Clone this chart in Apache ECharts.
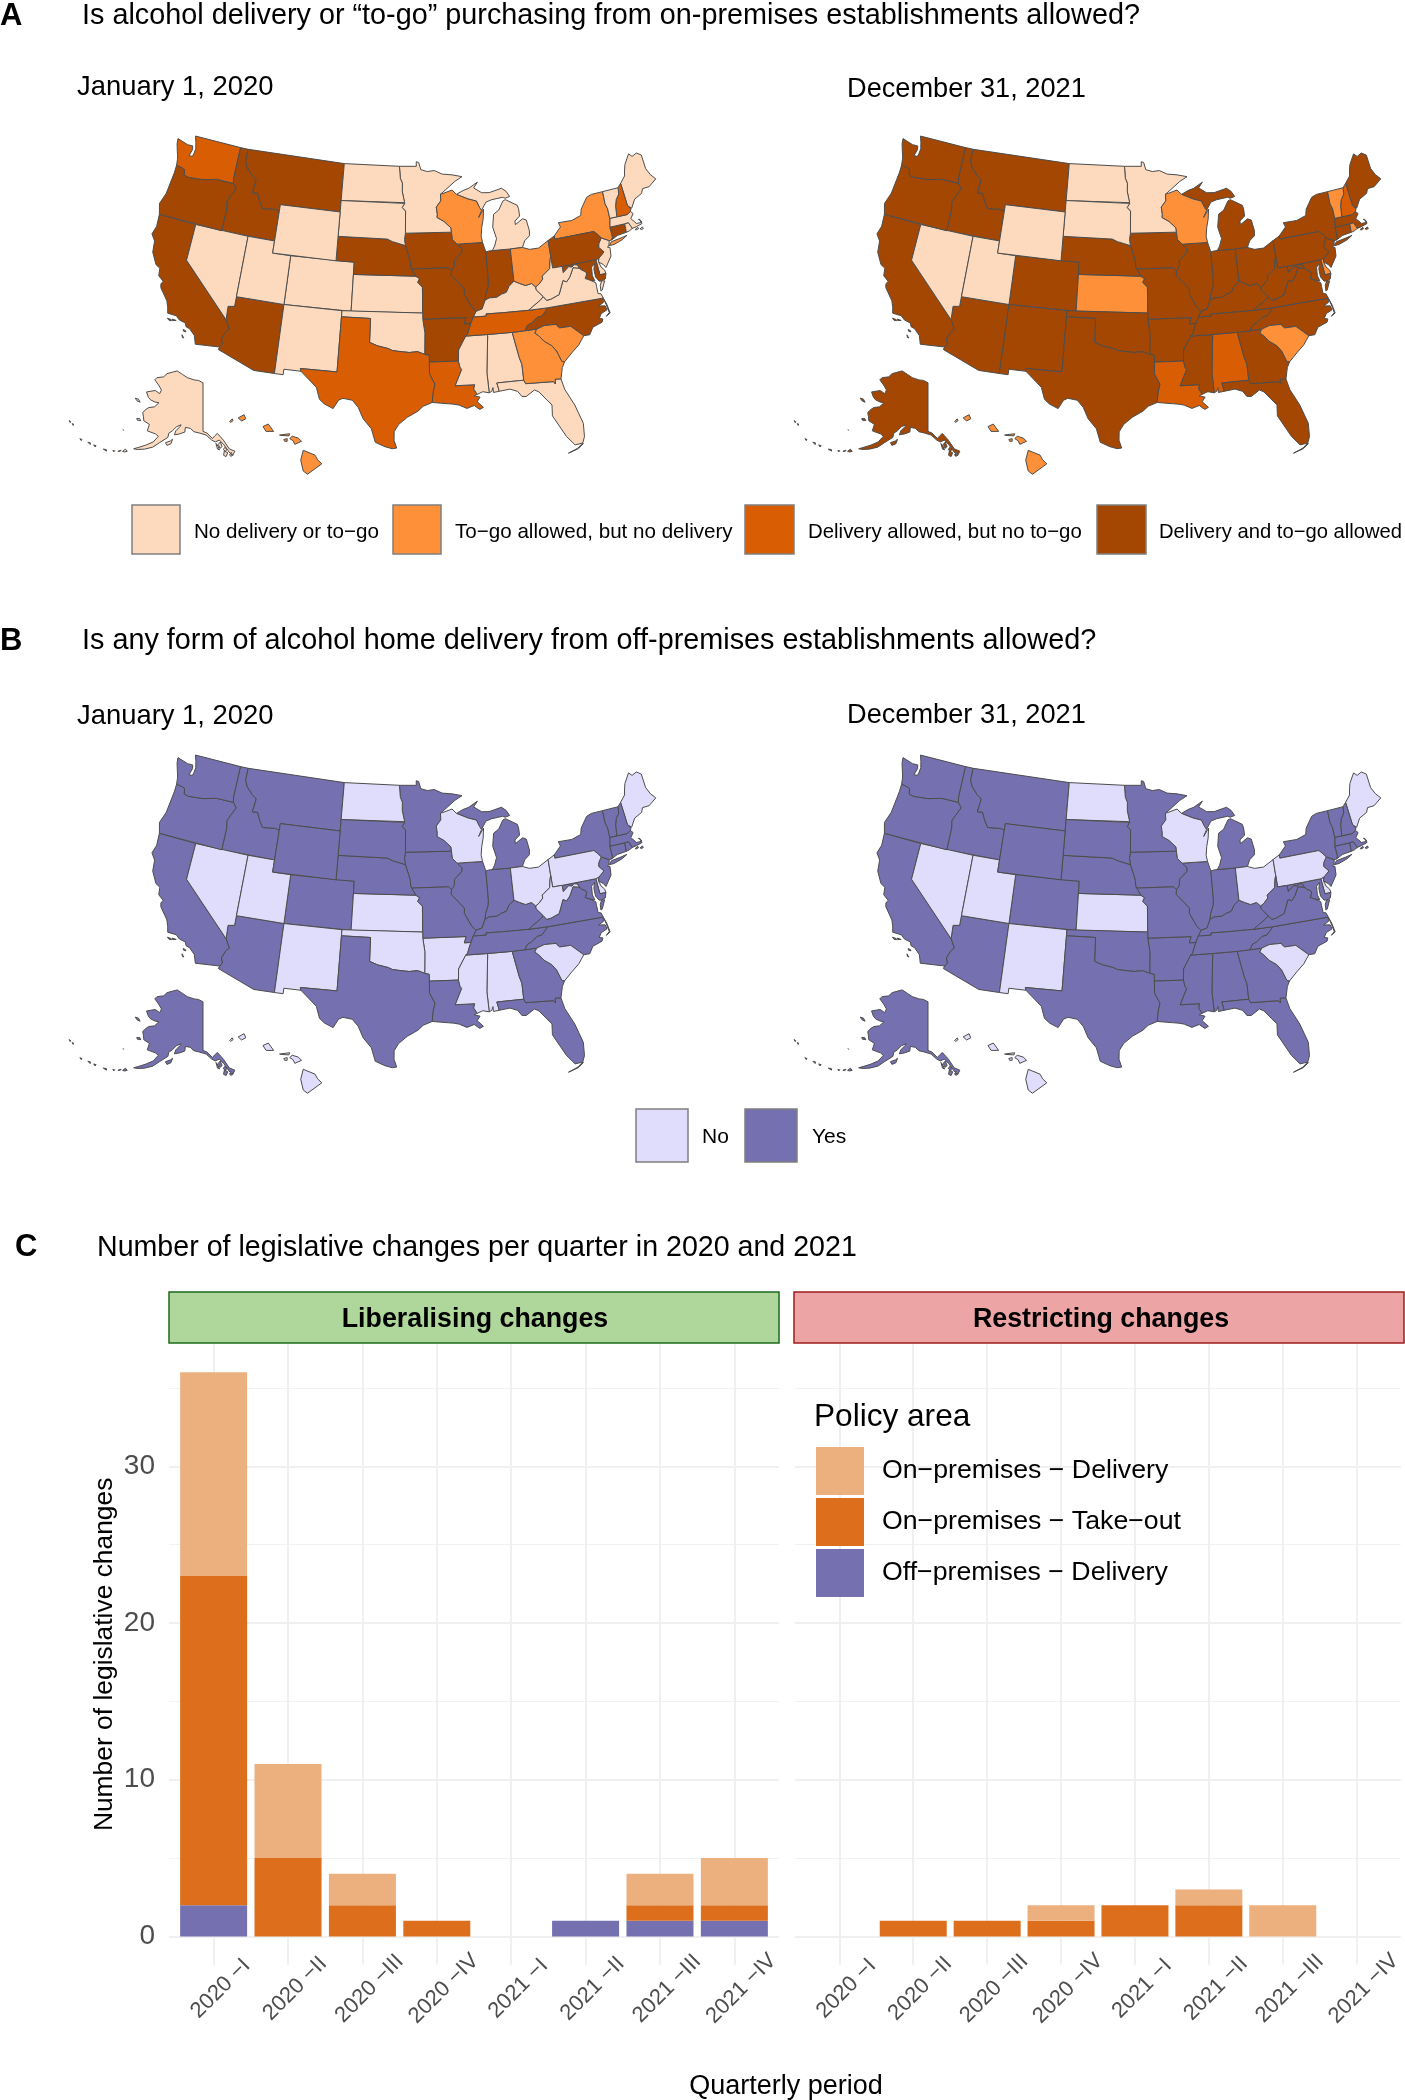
<!DOCTYPE html>
<html>
<head>
<meta charset="utf-8">
<title>Alcohol delivery and to-go policy</title>
<script src="https://cdn.jsdelivr.net/npm/echarts@6/dist/echarts.min.js"></script>
<style>
  html, body { margin: 0; padding: 0; background: #fff; }
  #main { width: 1405px; height: 2100px; }
</style>
</head>
<body>
<div id="main"></div>
<script>
// state order used by every policy list below
var stateIds = ['AL','AK','AZ','AR','CA','CO','CT','DE','FL','GA','HI','ID','IL','IN','IA','KS','KY','LA','ME','MD','MA','MI','MN','MS','MO','MT','NE','NV','NH','NJ','NM','NY','NC','ND','OH','OK','OR','PA','RI','SC','SD','TN','TX','UT','VT','VA','WA','WV','WI','WY'];

// panel A: 0 none, 1 to-go, 2 delivery, 3 both
var onPremises2020 = [0,0,3,3,3,0,3,0,0,1,1,3,3,3,3,0,0,2,0,3,0,0,0,0,3,3,3,0,2,0,0,1,3,0,1,0,3,3,0,1,0,2,2,0,0,0,2,0,1,0];
var onPremises2021 = [2,3,3,3,3,3,3,1,3,3,1,3,3,3,3,1,3,2,3,3,3,3,0,3,3,3,3,0,2,3,3,3,3,0,3,3,3,3,1,1,0,3,3,0,1,3,3,3,1,0];
// panel B: 0 no, 1 yes
var offPremises2020 = [0,1,1,0,1,1,1,0,1,1,0,1,1,1,1,0,1,1,0,1,1,1,1,0,1,1,1,0,1,1,0,1,1,0,0,0,1,0,1,0,1,1,1,0,1,1,1,0,0,1];
var offPremises2021 = [1,1,1,1,1,1,1,0,1,1,0,1,1,1,1,0,1,1,0,1,1,1,1,1,1,1,1,0,1,1,0,1,1,0,0,1,1,0,1,0,1,1,1,0,1,1,1,1,0,1];

var onLabels = ['No delivery or to\u2212go','To\u2212go allowed, but no delivery','Delivery allowed, but no to\u2212go','Delivery and to\u2212go allowed'];
var onColors = ['#FDDABD','#FD9039','#D95D02','#A34702'];
var offLabels = ['No','Yes'];
var offColors = ['#E0DDFC','#7570B0'];

// panel C
var quarters = ['2020 \u2212I','2020 \u2212II','2020 \u2212III','2020 \u2212IV','2021 \u2212I','2021 \u2212II','2021 \u2212III','2021 \u2212IV'];
var libOffDelivery = [2,0,0,0,0,1,1,1];
var libOnTakeout = [21,5,2,1,0,0,1,1];
var libOnDelivery = [13,6,2,0,0,0,2,3];
var resOffDelivery = [0,0,0,0,0,0,0,0];
var resOnTakeout = [0,1,1,1,2,2,0,0];
var resOnDelivery = [0,0,0,1,0,1,2,0];
var areaNames = ['On\u2212premises \u2212 Delivery','On\u2212premises \u2212 Take\u2212out','Off\u2212premises \u2212 Delivery'];
var areaColors = ['#ECB07F','#DC6E1C','#7570B0'];

// outlines, "west lat" pairs, one string per ring
var shapes = {
WA:['124.73 48.38,123.4 48.13,122.75 48.15,122.65 47.85,122.85 47.3,122.45 47.3,122.35 47.6,122.3 48,122.5 48.5,122.76 49,117.03 49,117.04 46.42,116.92 45.99,118.98 46,119.3 45.93,120.5 45.7,121.2 45.65,122.2 45.57,122.75 45.65,122.9 46.1,123.2 46.17,123.95 46.25,124.05 46.7,124.15 47,124.35 47.35,124.65 47.95'],
OR:['123.95 46.25,123.2 46.17,122.9 46.1,122.75 45.65,122.2 45.57,121.2 45.65,120.5 45.7,119.3 45.93,118.98 46,116.92 45.99,116.47 45.6,116.85 45,117.2 44.4,117.03 43.83,117.03 42,124.2 42,124.55 42.85,124.15 43.8,124.05 44.7,123.95 45.6'],
CA:['124.2 42,120 42,120 39,114.63 35,114.14 34.3,114.45 34,114.72 33.4,114.53 33,114.72 32.72,117.12 32.53,117.25 32.85,117.4 33.2,118 33.65,118.4 33.75,118.55 34.03,119.2 34.15,119.6 34.42,120.5 34.45,120.65 34.9,120.9 35.4,121.85 36.3,121.95 36.6,121.8 36.85,122.4 37.2,122.5 37.8,123 38,123.7 38.9,123.85 39.8,124.35 40.3,124.1 41',
 '120.4 34.05,120 34.02,119.95 33.93,120.2 33.92','119.9 34.08,119.5 34.05,119.55 33.98,119.85 33.97','118.6 33.48,118.35 33.42,118.3 33.33,118.55 33.35','118.6 33.03,118.45 32.9,118.35 32.82,118.5 32.82'],
NV:['120 42,114.04 42,114.04 36.2,114.7 36.1,114.63 35,120 39'],
ID:['117.03 49,116.05 49,116.05 48,115.7 47.5,114.95 46.95,114.35 46.65,114.5 45.55,113.9 45.6,113.45 44.95,113 44.45,111.5 44.55,111.05 44.47,111.05 42,117.03 42,117.03 43.83,117.2 44.4,116.85 45,116.47 45.6,116.92 45.99,117.04 46.42'],
MT:['116.05 49,104.05 49,104.05 45,111.05 45,111.05 44.47,111.5 44.55,113 44.45,113.45 44.95,113.9 45.6,114.5 45.55,114.35 46.65,114.95 46.95,115.7 47.5,116.05 48'],
WY:['111.05 45,104.05 45,104.05 41,111.05 41'],
UT:['114.04 42,111.05 42,111.05 41,109.05 41,109.05 37,114.04 37'],
CO:['109.05 41,102.05 41,102.05 37,109.05 37'],
AZ:['114.04 37,109.05 37,109.05 31.33,111.07 31.33,114.81 32.5,114.72 32.72,114.53 33,114.72 33.4,114.45 34,114.14 34.3,114.63 35,114.7 36.1,114.04 36.2'],
NM:['109.05 37,103 37,103.04 32,106.62 32,106.53 31.78,108.2 31.78,108.2 31.33,109.05 31.33'],
ND:['104.05 49,97.23 49,97.1 48,96.85 47.6,96.85 46.9,96.56 46,96.56 45.94,104.05 45.94'],
SD:['104.05 45.94,96.56 45.94,96.85 45.6,96.45 45.3,96.45 43.5,96.55 43,96.45 42.49,97.9 42.8,98.5 43,104.05 43'],
NE:['104.05 43,98.5 43,97.9 42.8,96.45 42.49,96.1 41.7,95.9 41.2,95.85 40.7,95.31 40,102.05 40,102.05 41,104.05 41'],
KS:['102.05 40,95.31 40,94.9 39.8,95.1 39.5,94.61 39.1,94.62 37,102.05 37'],
OK:['103 37,94.62 37,94.62 36.5,94.43 35.4,94.48 33.64,95.2 33.87,96 33.8,96.6 33.85,97.2 33.9,97.7 33.95,98.1 34.1,99.2 34.3,100 34.56,100 36.5,103 36.5'],
TX:['103 36.5,100 36.5,100 34.56,99.2 34.3,98.1 34.1,97.7 33.95,97.2 33.9,96.6 33.85,96 33.8,95.2 33.87,94.48 33.64,94.04 33.55,94.04 33,94.04 32,93.55 31.2,93.75 30.5,93.85 29.7,94.7 29.4,95.2 29,96.2 28.5,97 27.9,97.4 27.3,97.4 26.6,97.15 25.96,97.55 25.9,98.2 26.05,99.1 26.4,99.5 27.5,100.3 28.3,100.8 29.2,101.4 29.77,102.3 29.88,102.7 29.7,103.15 28.98,104 29.3,104.5 29.65,104.9 30.6,106.53 31.78,106.62 32,103.04 32'],
MN:['97.23 49,95.15 49,95.15 49.38,94.85 49.32,94.6 48.72,93.8 48.55,92.95 48.62,92 48.3,90.8 48.2,89.6 48,90.5 47.65,92.1 46.75,92.3 46.66,92.29 46.1,92.85 45.6,92.75 45,92.8 44.75,92 44.4,91.25 43.85,91.22 43.5,96.45 43.5,96.45 45.3,96.85 45.6,96.56 45.94,96.56 46,96.85 46.9,96.85 47.6,97.1 48'],
IA:['96.45 43.5,91.22 43.5,91.15 42.9,90.65 42.5,90.15 42.1,90.2 41.8,91.05 41.2,91.1 40.7,91.42 40.38,91.73 40.61,95.77 40.58,95.85 40.7,95.9 41.2,96.1 41.7,96.45 42.49,96.55 43'],
MO:['95.77 40.58,91.73 40.61,91.42 40.38,91.5 40,90.7 39.3,90.15 38.8,90.2 38.4,89.5 37.3,89.1 36.95,89.42 36.5,89.7 36,90.37 36,90.15 36.5,94.62 36.5,94.62 37,94.61 39.1,95.1 39.5,94.9 39.8,95.31 40,95.85 40.7'],
AR:['94.62 36.5,90.15 36.5,90.37 36,89.7 36,89.95 35.5,90.1 35.15,90.3 35,90.6 34.6,91.1 33.9,91.17 33,94.04 33,94.04 33.55,94.48 33.64,94.43 35.4'],
LA:['94.04 33,91.17 33,91.05 32.5,90.9 32.3,91.6 31,89.73 31,89.85 30.65,89.55 30.2,89.85 30.1,89.3 29.95,89.6 29.6,89.05 29.1,89.4 28.95,89.9 29.3,90.6 29.1,91.3 29.4,91.8 29.5,92.3 29.55,93.85 29.7,93.75 30.5,93.55 31.2,94.04 32'],
MS:['90.3 35,88.2 35,88.1 34.9,88.47 31.9,88.4 30.25,89 30.38,89.55 30.2,89.85 30.65,89.73 31,91.6 31,90.9 32.3,91.05 32.5,91.17 33,91.1 33.9,90.6 34.6'],
AL:['88.2 35,85.6 34.98,85.18 32.87,85 32.3,85 31,87.6 31,87.45 30.4,87.5 30.3,88 30.25,88 30.65,88.15 30.35,88.4 30.25,88.47 31.9,88.1 34.9'],
FL:['87.6 31,85 31,84.86 30.7,82.2 30.57,82.05 30.36,82 30.75,81.45 30.7,81.25 29.8,80.55 28.4,80.05 26.8,80.15 25.7,80.4 25.2,81.1 25.15,81.75 25.95,82.15 26.7,82.75 27.8,82.65 28.7,83.05 29.15,83.7 29.9,84.1 30.1,84.95 29.65,85.35 29.7,85.7 30.15,86.4 30.4,87.5 30.3,87.45 30.4',
 '80.35 25.15,80.85 24.8,81.8 24.55,81.8 24.6,80.9 24.85,80.4 25.2'],
GA:['85.6 34.98,84.32 34.99,83.1 35,83.35 34.7,83 34.45,82.55 33.95,81.85 33.5,81.45 33,81.1 32.1,80.85 32.03,81.15 31.6,81.45 30.7,82 30.75,82.05 30.36,82.2 30.57,84.86 30.7,85 31,85 32.3,85.18 32.87'],
SC:['83.1 35,82.3 35.2,81.05 35.15,81.05 35.05,80.8 34.82,79.67 34.8,78.55 33.86,79.2 33.2,79.95 32.7,80.85 32.03,81.1 32.1,81.45 33,81.85 33.5,82.55 33.95,83 34.45,83.35 34.7'],
NC:['84.32 34.99,84 35.4,83.5 35.57,82.9 35.95,82.4 36,81.68 36.59,75.87 36.55,75.95 36.2,76.5 36,75.85 35.9,75.75 35.55,76.4 35.35,76.7 35,76.35 34.9,76.5 34.65,77.5 34.4,77.95 33.85,78.55 33.86,79.67 34.8,80.8 34.82,81.05 35.05,81.05 35.15,82.3 35.2,83.1 35',
 '75.85 36.5,75.65 36,75.5 35.25,75.95 35.05,75.58 35.3,75.72 36'],
TN:['90.3 35,88.2 35,85.6 34.98,84.32 34.99,84 35.4,83.5 35.57,82.9 35.95,82.4 36,81.68 36.59,83.68 36.6,86.5 36.65,88.07 36.68,88.07 36.5,89.42 36.5,89.7 36,89.95 35.5,90.1 35.15'],
KY:['89.42 36.5,88.07 36.5,88.07 36.68,86.5 36.65,83.68 36.6,83.1 36.9,82.3 37.3,81.97 37.54,82.6 38.17,82.6 38.4,83 38.73,83.65 38.63,84.23 38.85,84.82 39.1,85.4 38.73,85.75 38.27,86.3 38.15,86.8 37.95,87.6 37.95,88.05 37.8,88.45 37.1,89.1 36.95'],
VA:['83.68 36.6,81.68 36.59,75.87 36.55,76 36.92,76.3 37,76.3 37.6,76.3 37.9,76.95 38.25,77.3 38.4,77.05 38.75,77.12 38.93,77.5 39.13,77.72 39.32,78.35 39.46,78.87 38.76,79.3 38.42,79.65 38.58,80.3 37.5,81.22 37.24,81.68 37.2,81.97 37.54,82.3 37.3,83.1 36.9',
 '75.95 37.15,75.9 37.6,75.65 37.95,75.35 37.9,75.8 37.2'],
WV:['81.97 37.54,81.68 37.2,81.22 37.24,80.3 37.5,79.65 38.58,79.3 38.42,78.87 38.76,78.35 39.46,77.72 39.32,77.83 39.6,78.2 39.68,78.45 39.52,78.8 39.6,79.48 39.2,79.48 39.72,80.52 39.72,80.52 40.64,80.65 40.4,80.85 39.7,81.75 39.2,81.75 38.95,82.2 38.6,82.6 38.4,82.6 38.17'],
MD:['79.48 39.72,75.79 39.72,75.69 38.46,75.05 38.45,75.24 38.03,75.65 37.95,75.9 37.95,76.2 38.35,76.2 39,76 39.45,76.4 39.2,76.5 38.5,76.35 38.05,76.95 38.25,77.3 38.4,77.05 38.75,77.12 38.93,77.5 39.13,77.72 39.32,77.83 39.6,78.2 39.68,78.45 39.52,78.8 39.6,79.48 39.2'],
DE:['75.79 39.72,75.42 39.8,75.55 39.5,75.4 39.05,75.1 38.75,75.05 38.45,75.69 38.46'],
PA:['80.52 41.98,79.76 42.27,79.76 42,75.35 42,75.05 41.75,74.7 41.36,75.1 40.95,75.2 40.65,74.75 40.2,75.42 39.8,75.79 39.72,79.48 39.72,80.52 39.72,80.52 40.64'],
NJ:['74.7 41.36,73.9 41,74.05 40.65,74.25 40.5,74 40.45,74.1 39.75,74.9 38.93,75.1 39.2,75.55 39.5,75.42 39.8,74.75 40.2,75.2 40.65,75.1 40.95'],
NY:['79.76 42,79.76 42.27,78.9 42.9,79.05 43.27,77.5 43.25,76.4 43.5,76.2 44,75.3 44.85,74.7 45,73.35 45.01,73.4 44,73.25 43.55,73.27 42.75,73.5 42.05,73.49 41.2,73.65 41,73.9 41,74.7 41.36,75.05 41.75,75.35 42',
 '74.03 40.6,73.7 40.87,72.6 40.98,71.87 41.07,72.5 40.82,73.5 40.6'],
VT:['73.35 45.01,71.5 45.01,71.6 44.5,72.05 44.1,72.3 43.6,72.46 42.73,73.27 42.75,73.25 43.55,73.4 44'],
NH:['71.5 45.01,71.08 45.3,70.98 43.4,70.7 43.07,70.82 42.87,71.3 42.7,72.46 42.73,72.3 43.6,72.05 44.1,71.6 44.5'],
ME:['71.08 45.3,70.4 45.8,70.25 46.2,70 46.7,69.23 47.46,68.9 47.18,68.3 47.35,67.8 47.07,67.78 45.9,67.45 45.3,67 44.85,68 44.4,68.8 44.4,69.05 44.05,70 43.75,70.6 43.1,70.7 43.07,70.98 43.4'],
MA:['73.5 42.05,73.27 42.75,72.46 42.73,71.3 42.7,70.82 42.87,70.6 42.65,71 42.3,70.65 41.95,70.55 41.8,70 41.78,70.05 42.05,70.2 42.08,69.95 41.9,69.95 41.67,70.65 41.55,71.12 41.5,71.2 41.68,71.38 42.02,71.8 42.02',
 '70.85 41.35,70.5 41.47,70.45 41.35,70.75 41.3','70.3 41.3,70 41.4,69.95 41.25,70.2 41.22'],
RI:['71.8 42.02,71.38 42.02,71.2 41.68,71.12 41.5,71.5 41.37,71.86 41.32'],
CT:['73.5 42.05,71.8 42.02,71.86 41.32,72.9 41.25,73.65 41,73.49 41.2'],
WI:['92.3 46.66,92 46.7,90.9 46.95,90.4 46.57,89.1 46.14,88.1 45.9,87.8 45.35,87.6 45.1,88 44.55,87.35 45.2,87.5 44.4,87.75 43.7,87.9 43,87.8 42.49,90.65 42.5,91.15 42.9,91.22 43.5,91.25 43.85,92 44.4,92.8 44.75,92.75 45,92.85 45.6,92.29 46.1'],
IL:['90.65 42.5,87.8 42.49,87.53 41.7,87.53 39.35,87.6 38.9,87.95 38.25,88.05 37.8,88.45 37.1,89.1 36.95,89.5 37.3,90.2 38.4,90.15 38.8,90.7 39.3,91.5 40,91.42 40.38,91.1 40.7,91.05 41.2,90.2 41.8,90.15 42.1'],
IN:['87.53 41.7,87.2 41.75,86.8 41.76,84.8 41.73,84.82 39.1,85.4 38.73,85.75 38.27,86.3 38.15,86.8 37.95,87.6 37.95,88.05 37.8,87.95 38.25,87.6 38.9,87.53 39.35'],
OH:['84.8 41.73,83.45 41.73,82.7 41.5,81.7 41.5,80.52 41.98,80.52 40.64,80.65 40.4,80.85 39.7,81.75 39.2,81.75 38.95,82.2 38.6,82.6 38.4,83 38.73,83.65 38.63,84.23 38.85,84.82 39.1'],
MI:['86.8 41.76,86.5 42.1,86.2 42.7,86.5 43.65,86.25 44.7,85.6 45,85 45.7,84.7 45.78,83.4 45.2,83.3 44.9,83.3 44.3,83.9 43.95,83.9 43.65,83 44.05,82.6 43.9,82.42 43,82.5 42.6,83.1 42.25,83.45 41.73,84.8 41.73',
 '90.4 46.57,89.1 46.14,88.1 45.9,87.8 45.35,87.6 45.1,87 45.75,86.3 45.9,85 46,84.7 45.9,84.15 46,84.5 46.45,85 46.75,86.5 46.5,87.4 46.55,88.3 47,87.8 47.45,88.9 47,89.6 46.85'],
AK:['141 69.65,141 60.3,139.5 60,137.5 58.9,136.5 59.4,135.5 59.8,133.5 58.4,131.8 56.6,130 56,130 55.9,131 55.2,132 56,133.5 57.5,135 58.5,136.5 58.2,137.8 58.6,139.8 59.6,142.5 60,144.5 60.2,146 60.8,148 60.9,148 60,150 59.5,151.8 59.2,151.5 60,150 61,149.8 61.3,151.5 60.8,152.8 59.9,154 59.3,154 58.5,156.5 57.2,158.5 56,161 55.2,163.3 54.7,164.5 54.6,163 55.2,161 56,158.8 57,157.5 58.3,158.8 58.6,162 58.7,162 60,164.5 60.3,165.2 61,166.1 61.7,165.3 62.5,164.5 63,162.3 63.5,161 64.5,162.8 64.4,165 64.5,166.3 64.8,168.1 65.6,164.5 66.5,162 66.2,161.8 67,164 67.7,166.8 68.35,166.2 68.9,163 69.5,161.8 70.3,159 70.9,156.6 71.35,153 70.9,150 70.45,146 70.15,143.5 70.1',
 '152.2 58.3,152.9 57.9,154.5 57.4,153.8 56.95,152.5 57.4','166.3 60.4,165.6 60.1,166.9 59.95,167.4 60.2','171.5 63.6,170 63.7,168.8 63.3,170.3 63.3',
 '167 53.95,166.2 53.7,166.9 53.4,167.6 53.35','169 53,168.2 53.45,168.3 53.2','170.6 52.7,170 52.85,170.1 52.6','173.5 52.15,172.6 52.35,172.3 52.1','176.8 51.95,176 52.05,176.1 51.75','178.8 51.8,178 51.95,177.8 51.65','181.5 51.5,180.8 51.6,180.8 51.35','186.2 52.9,185.8 53,185.6 52.75','187.6 52.95,187 53,186.9 52.8','170.35 57.2,170.1 57.25,170.1 57.1',
 '134.2 57.2,134.7 58.1,135.5 57.7,135 56.9','135.6 57.3,136.3 57.9,135.9 56.8,135.2 56.6','133.2 55.2,132.5 55.9,133.6 56.3,134 55.5','132.6 56.6,133.3 57,133.9 56.6,133.2 56.2','131.3 55.9,132 55.4,131.5 55.1,131 55.4'],
HI:['159.75 22.05,159.4 22.23,159.3 22,159.55 21.88','160.25 21.85,160.1 22,160.05 21.9,160.2 21.8','158.28 21.57,157.97 21.71,157.65 21.3,158.1 21.3','157.3 21.1,156.7 21.17,156.75 21.05,157.25 21.08','157.05 20.85,156.85 20.9,156.85 20.75,157 20.75','156.7 20.9,156.55 21.03,156.2 20.93,156 20.75,156.4 20.58,156.5 20.78','155.9 20.25,155.2 19.98,155.05 19.72,154.8 19.5,155.65 18.92,155.9 19.1,156.05 19.7']
};

var rad = Math.PI / 180;
// conic for the lower 48, fitted to the reference; AK and HI are inset
var albersN = (Math.sin(29.5 * rad) + Math.sin(45.5 * rad)) / 2;
var albersC = Math.pow(Math.cos(29.5 * rad), 2) + 2 * albersN * Math.sin(29.5 * rad);
var albersRho0 = Math.sqrt(albersC - 2 * albersN * Math.sin(37.5 * rad)) / albersN;

function project(p) {
  var lon = p[0], lat = p[1];
  if (lat < 23.5 && lon < -150) {
    return [310 + 16.9 * (lon + 155.5), 462 - 18 * (lat - 19.6)];
  }
  if (lon < -129.5) {
    var dl = (lon + 141) * rad, f = lat * rad, f0 = 60 * rad;
    var k = Math.sqrt(2 / (1 + Math.sin(f0) * Math.sin(f) + Math.cos(f0) * Math.cos(f) * Math.cos(dl)));
    return [203 + 298 * k * Math.cos(f) * Math.sin(dl),
            433 - 298 * k * (Math.cos(f0) * Math.sin(f) - Math.sin(f0) * Math.cos(f) * Math.cos(dl))];
  }
  var rho = Math.sqrt(albersC - 2 * albersN * Math.sin(lat * rad)) / albersN;
  var th = albersN * (lon + 96) * rad;
  return [409.4 + 698.6 * rho * Math.sin(th), 307 - 698.6 * (albersRho0 - rho * Math.cos(th))];
}
var projection = { project: project, unproject: function (p) { return p; } };

var features = [], box = [1e9, 1e9, -1e9, -1e9];
stateIds.forEach(function (id) {
  var rings = shapes[id].map(function (r) {
    var pts = r.split(',').map(function (s) {
      var a = s.split(' ');
      return [-parseFloat(a[0]), parseFloat(a[1])];
    });
    pts.forEach(function (q) {
      var xy = project(q);
      box = [Math.min(box[0], xy[0]), Math.min(box[1], xy[1]), Math.max(box[2], xy[0]), Math.max(box[3], xy[1])];
    });
    pts.push(pts[0]);
    return [pts];
  });
  features.push({ type: 'Feature', properties: { name: id }, geometry: { type: 'MultiPolygon', coordinates: rings } });
});
// map series on one map name get merged, so each panel gets its own
['a20','a21','b20','b21'].forEach(function (n) {
  echarts.registerMap(n, { type: 'FeatureCollection', features: JSON.parse(JSON.stringify(features)) });
});

function mapSeries(name, classes, colors, dx, dy) {
  return {
    type: 'map', map: name, name: name, projection: projection, roam: false, silent: true, showLegendSymbol: false,
    left: box[0] + dx, top: box[1] + dy, width: box[2] - box[0], height: box[3] - box[1],
    label: { show: false },
    itemStyle: { borderColor: '#4D4D4D', borderWidth: 1 },
    emphasis: { disabled: true }, select: { disabled: true },
    data: stateIds.map(function (id, i) {
      return { name: id, value: classes[i], itemStyle: { areaColor: colors[classes[i]] } };
    })
  };
}

function barSeries(name, vals, color, gridIndex) {
  // value column first so the stack runs along y
  return {
    type: 'bar', name: name, stack: 'p' + gridIndex, xAxisIndex: gridIndex, yAxisIndex: gridIndex * 2,
    barWidth: 67, silent: true, itemStyle: { color: color },
    encode: { x: 1, y: 0 },
    data: vals.map(function (v, i) { return [v, i + 1]; })
  };
}

var font = '"Liberation Sans", Arial, sans-serif';
function txt(x, y, s, size, extra) {
  return { type: 'text', x: x, y: y, z: 10, silent: true, style: Object.assign({
    text: s, font: size + 'px ' + font, fill: '#000', textVerticalAlign: 'middle', textBaseline: 'middle'
  }, extra || {}) };
}
function swatch(x, y, w, h, color) {
  return { type: 'rect', silent: true, shape: { x: x, y: y, width: w, height: h },
    style: { fill: color, stroke: '#7F7F7F', lineWidth: 1.5 } };
}

var gridTop = 1344, gridHeight = 620.7, gridLefts = [169, 795], gridWidth = 610;
var grids = [], xAxes = [], yAxes = [];
gridLefts.forEach(function (left, g) {
  grids.push({ left: left, top: gridTop, width: gridWidth, height: gridHeight, containLabel: false });
  xAxes.push({
    type: 'value', gridIndex: g, min: 0.4, max: 8.6,
    axisLine: { show: false },
    axisTick: { show: false, customValues: [1,2,3,4,5,6,7,8] },
    splitLine: { show: true, lineStyle: { color: '#F0F0F0', width: 2 } },
    axisLabel: {
      customValues: [1,2,3,4,5,6,7,8], rotate: 45, margin: 31, align: 'center', verticalAlign: 'middle',
      padding: [0, 0, 0, 20], fontFamily: font, fontSize: 22, color: '#4D4D4D',
      formatter: function (v) { return quarters[v - 1]; }
    }
  });
  // major grid with the labels, then a second axis for the thin minor lines
  yAxes.push({
    type: 'value', gridIndex: g, min: -1.8, max: 37.8,
    axisLine: { show: false },
    axisTick: { show: false, customValues: [0,10,20,30] },
    splitLine: { show: true, lineStyle: { color: '#F0F0F0', width: 2 } },
    axisLabel: { show: g === 0, customValues: [0,10,20,30], margin: 14, fontFamily: font, fontSize: 28, color: '#4D4D4D' },
    name: g === 0 ? 'Number of legislative changes' : '', nameLocation: 'middle', nameGap: 51, nameRotate: 90,
    nameTextStyle: { fontFamily: font, fontSize: 26.4, color: '#000' }
  });
  yAxes.push({
    type: 'value', gridIndex: g, min: -1.8, max: 37.8,
    axisLine: { show: false },
    axisTick: { show: false, customValues: [5,15,25,35] },
    axisLabel: { show: false },
    splitLine: { show: true, lineStyle: { color: '#F2F2F2', width: 1 } }
  });
});

var series = [
  mapSeries('a20', onPremises2020, onColors, 0, 0),
  mapSeries('a21', onPremises2021, onColors, 725, 0),
  mapSeries('b20', offPremises2020, offColors, 0, 619),
  mapSeries('b21', offPremises2021, offColors, 725, 619),
  barSeries(areaNames[2], libOffDelivery, areaColors[2], 0),
  barSeries(areaNames[1], libOnTakeout, areaColors[1], 0),
  barSeries(areaNames[0], libOnDelivery, areaColors[0], 0),
  barSeries(areaNames[2], resOffDelivery, areaColors[2], 1),
  barSeries(areaNames[1], resOnTakeout, areaColors[1], 1),
  barSeries(areaNames[0], resOnDelivery, areaColors[0], 1)
];

var graphics = [
  txt(0, 16, 'A', 31, { font: 'bold 31px ' + font }),
  txt(82, 16, 'Is alcohol delivery or \u201Cto-go\u201D purchasing from on-premises establishments allowed?', 28.8),
  txt(77, 87, 'January 1, 2020', 27.4),
  txt(847, 90, 'December 31, 2021', 27.2),
  swatch(132, 505, 48, 49, onColors[0]), txt(194, 532, onLabels[0], 20.6),
  swatch(393, 505, 48, 49, onColors[1]), txt(455, 532, onLabels[1], 20.6),
  swatch(745, 505, 49, 49, onColors[2]), txt(808, 532, onLabels[2], 20.4),
  swatch(1097, 505, 49, 49, onColors[3]), txt(1159, 532, onLabels[3], 20.2),
  txt(0, 641, 'B', 31, { font: 'bold 31px ' + font }),
  txt(82, 641, 'Is any form of alcohol home delivery from off-premises establishments allowed?', 28.8),
  txt(77, 716, 'January 1, 2020', 27.4),
  txt(847, 716, 'December 31, 2021', 27.2),
  swatch(636, 1109, 52, 53, offColors[0]), txt(702, 1137, offLabels[0], 21),
  swatch(745, 1109, 52, 53, offColors[1]), txt(812, 1137, offLabels[1], 21),
  txt(15, 1247, 'C', 31, { font: 'bold 31px ' + font }),
  txt(97, 1248, 'Number of legislative changes per quarter in 2020 and 2021', 28.6),
  { type: 'rect', silent: true, shape: { x: 169, y: 1292, width: 610, height: 51 }, style: { fill: '#AFD69B', stroke: '#1B6B1B', lineWidth: 1.5 } },
  txt(475, 1320, 'Liberalising changes', 26.8, { font: 'bold 26.8px ' + font, textAlign: 'center', align: 'center' }),
  { type: 'rect', silent: true, shape: { x: 794, y: 1292, width: 610, height: 51 }, style: { fill: '#ECA4A4', stroke: '#A01C1C', lineWidth: 1.5 } },
  txt(1101, 1320, 'Restricting changes', 26.8, { font: 'bold 26.8px ' + font, textAlign: 'center', align: 'center' }),
  txt(814, 1417, 'Policy area', 31.6),
  txt(786, 2087, 'Quarterly period', 27, { textAlign: 'center', align: 'center' })
];

var chart = echarts.init(document.getElementById('main'), null, { renderer: 'canvas' });
chart.setOption({
  animation: false,
  backgroundColor: '#fff',
  grid: grids,
  xAxis: xAxes,
  yAxis: yAxes,
  legend: {
    left: 816, top: 1447, padding: 0, orient: 'vertical', icon: 'rect', itemWidth: 48, itemHeight: 48, itemGap: 3,
    selectedMode: false, data: areaNames,
    textStyle: { fontFamily: font, fontSize: 26.7, color: '#000', padding: [4, 0, 0, 13] }
  },
  series: series,
  graphic: graphics
});
</script>
</body>
</html>
